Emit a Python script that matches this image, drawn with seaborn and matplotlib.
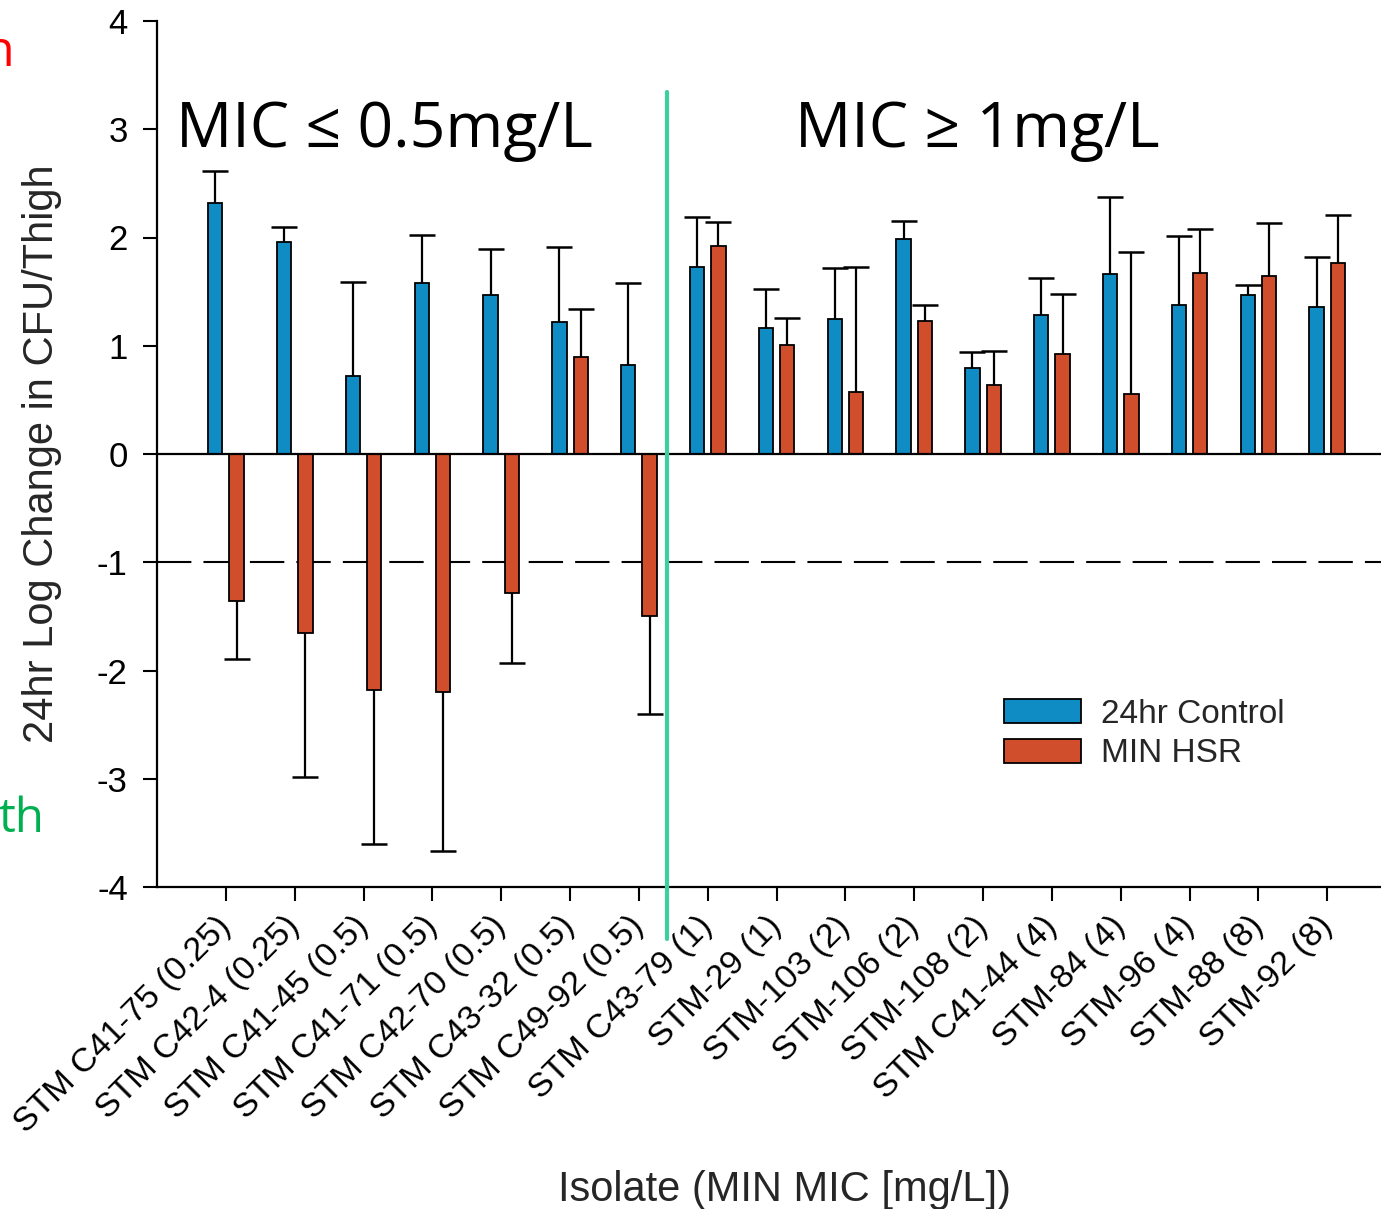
import numpy as np
import pandas as pd
import matplotlib
matplotlib.use("Agg")
import matplotlib.pyplot as plt
import matplotlib.patches as mpatches
import seaborn as sns

# ---------------- data ----------------
isolates = ["STM C41-75 (0.25)", "STM C42-4 (0.25)", "STM C41-45 (0.5)", "STM C41-71 (0.5)",
            "STM C42-70 (0.5)", "STM C43-32 (0.5)", "STM C49-92 (0.5)", "STM C43-79 (1)",
            "STM-29 (1)", "STM-103 (2)", "STM-106 (2)", "STM-108 (2)", "STM C41-44 (4)",
            "STM-84 (4)", "STM-96 (4)", "STM-88 (8)", "STM-92 (8)"]
conditions = ["24hr Control", "MIN HSR"]
control_mean = [2.32, 1.96, 0.72, 1.58, 1.47, 1.22, 0.82, 1.73, 1.16, 1.25, 1.99, 0.79, 1.28, 1.66, 1.38, 1.47, 1.36]
control_err = [0.29, 0.14, 0.87, 0.44, 0.42, 0.69, 0.76, 0.46, 0.36, 0.47, 0.16, 0.15, 0.35, 0.71, 0.63, 0.09, 0.46]
hsr_mean = [-1.36, -1.65, -2.18, -2.20, -1.28, 0.90, -1.50, 1.92, 1.01, 0.57, 1.23, 0.64, 0.92, 0.55, 1.67, 1.64, 1.76]
hsr_err = [0.53, 1.33, 1.42, 1.47, 0.65, 0.44, 0.90, 0.22, 0.25, 1.16, 0.15, 0.31, 0.56, 1.32, 0.41, 0.49, 0.45]
y_ticks = [-4, -3, -2, -1, 0, 1, 2, 3, 4]
threshold = -1
group_titles = ["MIC \u2264 0.5mg/L", "MIC \u2265 1mg/L"]

# ---------------- style ----------------
sns.set_style("ticks")
plt.rcParams["font.family"] = ["Liberation Sans", "DejaVu Sans"]
plt.rcParams["axes.unicode_minus"] = False

colors = ["#0F8CC4", "#D04E2B"]

df = pd.DataFrame({
    "Isolate": isolates * 2,
    "Condition": [conditions[0]] * len(isolates) + [conditions[1]] * len(isolates),
    "Value": control_mean + hsr_mean,
})

W, H = 1381, 1209
fig = plt.figure(figsize=(W / 100, H / 100), dpi=100)
ax = fig.add_axes([157 / W, 1 - 887 / H, (W - 157) / W, (887 - 21) / H])

sns.barplot(data=df, x="Isolate", y="Value", hue="Condition", order=isolates,
            hue_order=conditions, palette=colors, saturation=1, width=0.62, gap=0.33,
            edgecolor="black", linewidth=1.3, errorbar=None, legend=False, ax=ax, zorder=2)

# one-sided error bars (away from zero)
errs = [control_err, hsr_err]
for cont, err in zip(ax.containers, errs):
    xs = np.array([b.get_x() + b.get_width() / 2 for b in cont])
    ys = np.array(cont.datavalues, dtype=float)
    err = np.array(err, dtype=float)
    for sign in (1, -1):
        m = np.sign(ys) == sign
        if not m.any():
            continue
        lo = np.where(sign > 0, 0, err[m]) * np.ones(m.sum())
        hi = np.where(sign > 0, err[m], 0) * np.ones(m.sum())
        eb = ax.errorbar(xs[m], ys[m], yerr=[lo, hi], fmt="none", ecolor="black",
                         elinewidth=1.6, capsize=9.7, capthick=1.8, zorder=3)
        for cl in eb[1]:
            if np.allclose(cl.get_ydata(), ys[m]):
                cl.set_visible(False)

ax.axhline(0, color="black", lw=1.6, zorder=4)
ax.axhline(threshold, color="black", lw=1.5, dashes=(16.5, 5.8), zorder=1)

ax.set_ylim(y_ticks[0], y_ticks[-1])
ax.set_xlim(-1.0, len(isolates) - 1 + 0.78)
ax.set_yticks(y_ticks)
ax.set_yticklabels([str(t) for t in y_ticks])
ax.set_xticks(range(len(isolates)))
ax.set_xticklabels(isolates, rotation=45, ha="right", va="center", rotation_mode="anchor")

ax.tick_params(axis="both", direction="out", length=10, width=1.5, color="black",
               labelcolor="black")
ax.tick_params(axis="y", pad=11, labelsize=25)
ax.tick_params(axis="x", pad=15, labelsize=24.5)

for s in ["top", "right"]:
    ax.spines[s].set_visible(False)
for s in ["left", "bottom"]:
    ax.spines[s].set_linewidth(1.6)
    ax.spines[s].set_color("black")

ax.set_xlabel("Isolate (MIN MIC [mg/L])", fontsize=30)
ax.set_ylabel("24hr Log Change in CFU/Thigh", fontsize=30)
ax.xaxis.set_label_coords((785 - 157) / (W - 157), -(1170 - 887) / (887 - 21))
ax.yaxis.set_label_coords(-(157 - 62) / (W - 157), 0.5)

# legend
handles = [mpatches.Patch(facecolor=c, edgecolor="black", linewidth=1.3) for c in colors]
ax.legend(handles, conditions, loc="upper left", bbox_to_anchor=(1004 / W, 1 - 699 / H),
          bbox_transform=fig.transFigure, frameon=False, fontsize=24, borderpad=0,
          borderaxespad=0, handlelength=2.3, handleheight=0.72, handletextpad=0.6,
          labelspacing=0.25)

# divider line between MIC groups
ax.plot([6.41, 6.41], [3.34, -4.48], color="#3DCF9F", lw=3.0, clip_on=False, zorder=5)

# group titles
for x_px, title in zip([176, 795], group_titles):
    fig.text(x_px / W, 1 - 147 / H, title, fontsize=45, color="black",
             family=["Open Sans", "DejaVu Sans"], ha="left", va="baseline")

# cropped annotation fragments at left edge (as in the source image)
fig.text(-16 / W, 1 - 66 / H, "n", color="#FF0000", fontsize=36, family=["Open Sans"],
         ha="left", va="baseline")
fig.text(-2 / W, 1 - 832 / H, "th", color="#00B050", fontsize=34, family=["Open Sans"],
         ha="left", va="baseline")

fig.savefig("out.png", dpi=100)
